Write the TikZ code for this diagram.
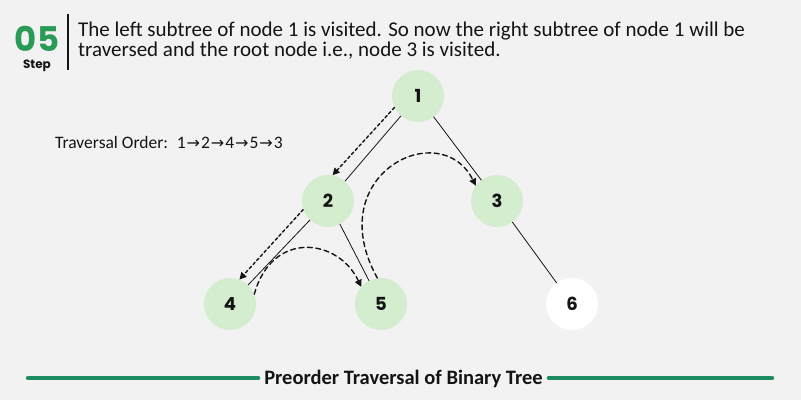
\documentclass[tikz,border=0pt]{standalone}
\usepackage{fontspec}
\setmainfont{Carlito}
\newfontfamily\PoppinsFont{Poppins}
\newfontfamily\SymbolFont{DejaVu Sans}
\usepackage{xcolor}
\usepackage{tikz}
\usetikzlibrary{arrows.meta}
\definecolor{BackgroundColour}{HTML}{F2F2F2}
\definecolor{ForegroundColour}{HTML}{141414}
\definecolor{Accent1}{HTML}{2B9A56}
\definecolor{Accent1_2}{HTML}{1D8C5F}
\definecolor{Accent1_5}{HTML}{D5EDCF}
\newcommand{\orderarrow}{\hspace{1pt}{\SymbolFont\fontsize{16}{16}\selectfont →}\hspace{1pt}}

\begin{document}
\begin{tikzpicture}[x = 1pt, y = -1pt, line cap = round,
    treenode/.style = {circle, fill = Accent1_5, minimum size = 52pt, inner sep = 0pt, text = ForegroundColour,
                       font = \PoppinsFont\bfseries\fontsize{18}{18}\selectfont},
    leafnode/.style = {treenode, fill = white},
    edgeline/.style = {draw = ForegroundColour, line width = 0.8pt},
    visit/.style = {draw = ForegroundColour, line width = 1.4pt, dash pattern = on 3pt off 2.5pt,
                    -{Triangle[length = 7pt, width = 7pt]}},
    hop/.style = {visit, dash pattern = on 5pt off 3.5pt},
    rule/.style = {draw = Accent1_2, line width = 4.5pt}]

    \path[fill = BackgroundColour] (0, 0) rectangle (801, 400);
    \useasboundingbox (0, 0) rectangle (801, 400);

    % step header
    \node[anchor = base, inner sep = 0pt, text = Accent1, font = \PoppinsFont\bfseries\fontsize{34}{34}\selectfont] (stepnum) at (37, 51) {05};
    \node[anchor = base, inner sep = 0pt, text = ForegroundColour, font = \PoppinsFont\bfseries\fontsize{12}{12}\selectfont] (steplabel) at (37, 68) {Step};
    \draw[ForegroundColour, line width = 2pt, line cap = butt] (68, 14) -- (68, 70);
    \node[anchor = base west, inner sep = 0pt, text = ForegroundColour, font = \fontsize{21}{21}\selectfont] (lineone) at (78, 36)
        {The left subtree of node 1 is visited. So now the right subtree of node 1 will be};
    \node[anchor = base west, inner sep = 0pt, text = ForegroundColour, font = \fontsize{21}{21}\selectfont] (linetwo) at (78, 56)
        {traversed and the root node i.e., node 3 is visited.};

    \node[anchor = base west, inner sep = 0pt, text = ForegroundColour, font = \fontsize{17.5}{17.5}\selectfont] (order) at (55, 148)
        {Traversal Order:\enspace 1\orderarrow 2\orderarrow 4\orderarrow 5\orderarrow 3};

    % tree
    \node[treenode] (one)   at (418,  96) {1};
    \node[treenode] (two)   at (328, 201) {2};
    \node[treenode] (three) at (497, 201) {3};
    \node[treenode] (four)  at (230, 304) {4};
    \node[treenode] (five)  at (381, 304) {5};
    \node[leafnode] (six)   at (572, 304) {6};

    \path[edgeline] (one) -- (two)  (one) -- (three)  (two) -- (four)  (two) -- (five)  (three) -- (six);

    \path[visit] (one.206) -- (two.80);
    \path[visit] (two.199) -- (four.69);
    \path[hop] (four.22) .. controls (272, 230) and (338, 238) .. (five.139);
    \path[hop] (five.98) .. controls (320, 175) and (440, 115) .. (three.144);

    % caption
    \node[anchor = base, inner sep = 0pt, text = ForegroundColour, font = \bfseries\fontsize{20.5}{20.5}\selectfont] (caption) at (403.5, 384)
        {Preorder Traversal of Binary Tree};
    \coordinate (ruleleft)  at (28, 378);
    \coordinate (ruleright) at (772, 378);
    \path[rule] (ruleleft) -- ([xshift = -6pt] caption.west |- ruleleft);
    \path[rule] ([xshift = 6pt] caption.east |- ruleright) -- (ruleright);
\end{tikzpicture}
\end{document}
